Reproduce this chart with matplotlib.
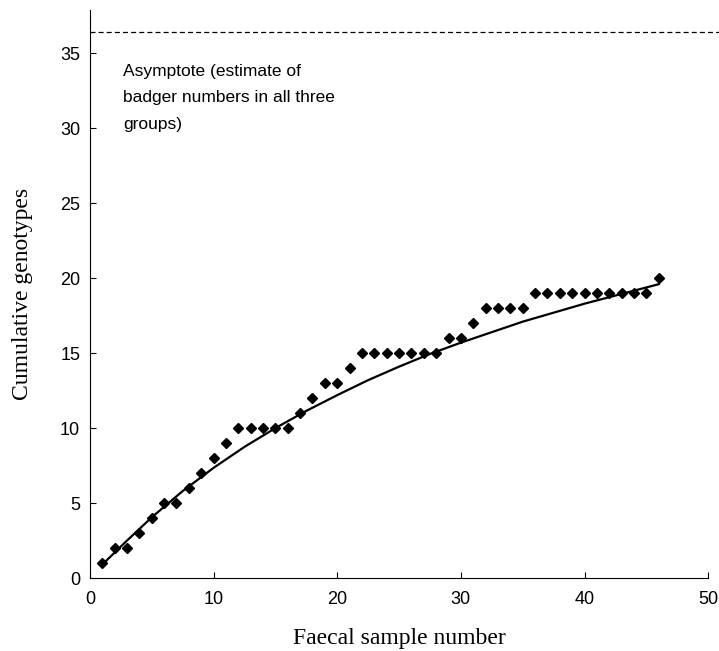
import matplotlib
matplotlib.use("Agg")
import matplotlib.pyplot as plt

# cumulative genotypes per faecal sample
samples = list(range(1, 47))
genotypes = [1, 2, 2, 3, 4, 5, 5, 6, 7, 8,
             9, 10, 10, 10, 10, 10, 11, 12, 13, 13,
             14, 15, 15, 15, 15, 15, 15, 15, 16, 16,
             17, 18, 18, 18, 18, 19, 19, 19, 19, 19,
             19, 19, 19, 19, 19, 20]

# fitted curve
curve_x = [1, 3, 5, 7.5, 10, 12.5, 15, 17.5, 20, 22.5, 25, 27.5, 30, 32.5, 35, 37.5, 40, 43, 46]
curve_y = [0.9, 2.5, 4.05, 5.8, 7.35, 8.75, 10.0, 11.15, 12.2, 13.2, 14.1, 14.95, 15.7, 16.4, 17.1, 17.7, 18.3, 18.95, 19.6]

asymptote = 36.45

fig = plt.figure(figsize=(7.19, 6.51), dpi=100)
ax = fig.add_axes([0.125, 0.112, 0.86, 0.873])

ax.hlines(asymptote, 0, 50.9, color="black", linestyles=[(0, (4, 2.5))], linewidth=0.9, clip_on=False)
ax.plot(curve_x, curve_y, color="black", linewidth=1.6)
ax.plot(samples, genotypes, "D", color="black", markersize=5.3)

ax.text(2.7, 34.3, "Asymptote (estimate of\nbadger numbers in all three\ngroups)",
        family="Liberation Sans", fontsize=12.5, va="top", ha="left", linespacing=1.97)

ax.set_xlim(0, 50)
ax.set_ylim(0, 37.9)
ax.set_xticks(range(0, 51, 10))
ax.set_yticks(range(0, 36, 5))
ax.spines["top"].set_visible(False)
ax.spines["right"].set_visible(False)
ax.tick_params(axis="x", direction="in", length=4, labelsize=13, pad=9)
ax.tick_params(axis="y", direction="in", length=4, labelsize=13, pad=7)
for lab in ax.get_xticklabels() + ax.get_yticklabels():
    lab.set_family("Liberation Sans")

ax.set_xlabel("Faecal sample number", family="Liberation Serif", fontsize=17)
ax.set_ylabel("Cumulative genotypes", family="Liberation Serif", fontsize=17)
ax.xaxis.set_label_coords(0.5, -0.088)
ax.yaxis.set_label_coords(-0.092, 0.5)

fig.savefig("out.png", dpi=100)
